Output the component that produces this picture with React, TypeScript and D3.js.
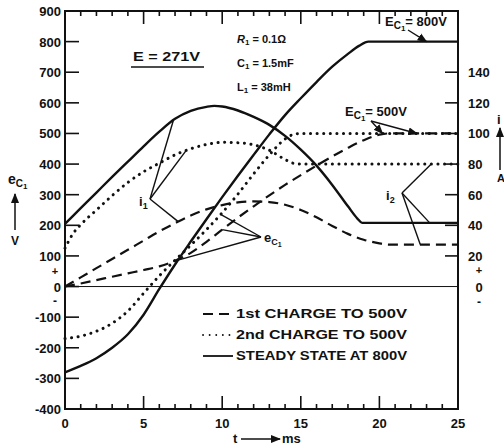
import React from "react";
import * as d3 from "d3";

type Pt = [number, number];

// t (ms), value on the left scale (V); currents use the right scale, 100 A = 500 V
// 1st charge to 500V (dashed)
const firstI1: Pt[] = [[0, 0], [1, 30], [2, 60], [3, 90], [4, 120], [5, 150], [6, 180], [7, 207], [8, 232], [9, 252], [10, 266], [11, 275], [12, 278], [13, 276], [14, 267], [15, 250], [16, 226], [17, 198], [18, 172], [19, 153], [20, 141], [20.6, 137], [25, 137]];
const firstEc: Pt[] = [[0, 0], [1, 10], [2, 21], [3, 32], [4, 43], [5, 54], [6, 66], [7, 84], [8, 110], [9, 146], [10, 186], [11, 225], [12, 262], [13, 298], [14, 332], [15, 364], [16, 395], [17, 425], [18, 453], [19, 478], [20, 496], [20.6, 500], [25, 500]];
// 2nd charge to 500V (dotted)
const secondI1: Pt[] = [[0, 125], [0.5, 172], [1, 202], [2, 250], [3, 297], [4, 340], [5, 375], [6, 403], [7, 430], [8, 450], [9, 464], [10, 471], [11, 470], [12, 463], [13, 445], [14, 415], [14.5, 403], [15, 400], [25, 400]];
const secondEc: Pt[] = [[0, -170], [1, -162], [2, -146], [3, -120], [4, -80], [5, -22], [6, 35], [7, 86], [8, 135], [9, 186], [10, 241], [11, 302], [12, 368], [13, 430], [14, 482], [14.6, 498], [15, 500], [25, 500]];
// steady state at 800V (solid)
const steadyI1: Pt[] = [[0, 205], [1, 256], [2, 307], [3, 358], [4, 408], [5, 458], [6, 506], [7, 548], [8, 574], [9, 587], [9.5, 590], [10, 588], [11, 575], [12, 554], [13, 528], [14, 492], [15, 447], [16, 395], [17, 332], [18, 262], [18.6, 222], [18.9, 208], [25, 208]];
const steadyEc: Pt[] = [[0, -280], [1, -259], [2, -234], [3, -200], [4, -156], [5, -92], [6, -8], [7, 72], [8, 147], [9, 220], [10, 292], [11, 362], [12, 430], [13, 497], [14, 560], [15, 615], [16, 668], [17, 718], [18, 760], [18.7, 786], [19.3, 800], [25, 800]];

const voltTicks = d3.range(-400, 901, 100);
const ampTicks = [20, 40, 60, 80, 100, 120, 140];
const timeLabels = [0, 5, 10, 15, 20, 25];
const legendLabels = ["1st CHARGE  TO  500V", "2nd CHARGE  TO  500V", "STEADY STATE AT 800V"];

const x = d3.scaleLinear().domain([0, 25]).range([65, 458]);
const y = d3.scaleLinear().domain([-400, 900]).range([409, 11]);
const yA = d3.scaleLinear().domain([-80, 180]).range([409, 11]);

const line = d3
  .line<Pt>()
  .x((d) => x(d[0]))
  .y((d) => y(d[1]))
  .curve(d3.curveMonotoneX);

const at = (s: Pt[], t: number): [number, number] => {
  let i = 0;
  while (i < s.length - 2 && s[i + 1][0] < t) i++;
  const [t0, v0] = s[i];
  const [t1, v1] = s[i + 1];
  const v = v0 + ((v1 - v0) * (t - t0)) / (t1 - t0);
  return [x(t), y(v)];
};

const styles = {
  dashed: { strokeDasharray: "10 6", strokeWidth: 2.2 },
  dotted: { strokeDasharray: "0.1 6.5", strokeWidth: 3, strokeLinecap: "round" as const },
  solid: { strokeWidth: 2.4 },
};

const ink = "#111";
const font = "'Liberation Sans', Arial, sans-serif";

const Lead = ({ from, to, arrow }: { from: number[]; to: number[]; arrow?: boolean }) => (
  <line x1={from[0]} y1={from[1]} x2={to[0]} y2={to[1]} stroke={ink} strokeWidth={1.4} markerEnd={arrow ? "url(#ah)" : undefined} />
);

export default function App() {
  const series = [
    { d: firstI1, s: styles.dashed },
    { d: firstEc, s: styles.dashed },
    { d: secondI1, s: styles.dotted },
    { d: secondEc, s: styles.dotted },
    { d: steadyI1, s: styles.solid },
    { d: steadyEc, s: styles.solid },
  ];
  const i1At: number[] = [150, 199];
  const ecAt: number[] = [261, 237];
  const i2At: number[] = [402, 193];

  return (
    <svg width={504} height={448} style={{ position: "absolute", left: 0, top: 0, background: "#fff" }} fontFamily={font} fontWeight="bold" fill={ink}>
      <defs>
        <marker id="ah" viewBox="0 0 10 10" refX="9" refY="5" markerWidth="7" markerHeight="7" orient="auto">
          <path d="M0,1 L10,5 L0,9 Z" fill={ink} />
        </marker>
      </defs>

      {/* frame */}
      <rect x={x(0)} y={y(900)} width={x(25) - x(0)} height={y(-400) - y(900)} fill="none" stroke={ink} strokeWidth={2} />
      <line x1={x(0)} x2={x(25)} y1={y(0)} y2={y(0)} stroke={ink} strokeWidth={1} />

      {/* time ticks top and bottom */}
      {d3.range(0, 26).map((t) => {
        const len = t % 5 === 0 ? 13 : 5;
        return (
          <g key={t} stroke={ink} strokeWidth={1.6}>
            <line x1={x(t)} x2={x(t)} y1={y(-400)} y2={y(-400) - len} />
            <line x1={x(t)} x2={x(t)} y1={y(900)} y2={y(900) + len} />
          </g>
        );
      })}
      {timeLabels.map((t) => (
        <text key={t} x={x(t)} y={428} fontSize={13} textAnchor="middle">{t}</text>
      ))}
      <text x={233} y={443} fontSize={13}>t</text>
      <line x1={241} x2={280} y1={439} y2={439} stroke={ink} strokeWidth={1.5} markerEnd="url(#ah)" />
      <text x={282} y={443} fontSize={13}>ms</text>

      {/* left axis */}
      {voltTicks.map((v) => (
        <g key={v}>
          {v > -400 && v < 900 && <line x1={x(0)} x2={x(0) + 14} y1={y(v)} y2={y(v)} stroke={ink} strokeWidth={1.6} />}
          <text x={61} y={y(v) + 5} fontSize={13} textAnchor="end">{v}</text>
        </g>
      ))}
      <text x={55} y={y(52) + 4} fontSize={11} textAnchor="middle">+</text>
      <text x={55} y={y(-52) + 3} fontSize={12} textAnchor="middle">-</text>
      <text x={8} y={184} fontSize={14}>e<tspan fontSize={10} dy={3}>C</tspan><tspan fontSize={8} dy={2}>1</tspan></text>
      <line x1={15} x2={15} y1={230} y2={194} stroke={ink} strokeWidth={1.5} markerEnd="url(#ah)" />
      <text x={15} y={245} fontSize={12} textAnchor="middle">V</text>

      {/* right axis */}
      {ampTicks.map((a) => (
        <g key={a}>
          <line x1={x(25) - 13} x2={x(25)} y1={yA(a)} y2={yA(a)} stroke={ink} strokeWidth={1.6} />
          <text x={468} y={yA(a) + 5} fontSize={13}>{a}</text>
        </g>
      ))}
      <text x={479} y={yA(10.5) + 4} fontSize={11} textAnchor="middle">+</text>
      <text x={479} y={yA(0) + 5} fontSize={13} textAnchor="middle">0</text>
      <text x={479} y={yA(-10.5) + 3} fontSize={12} textAnchor="middle">-</text>
      <text x={497} y={124} fontSize={13}>i</text>
      <line x1={500} x2={500} y1={170} y2={128} stroke={ink} strokeWidth={1.5} markerEnd="url(#ah)" />
      <text x={497} y={182} fontSize={11}>A</text>

      {/* curves */}
      {series.map((c, i) => (
        <path key={i} d={line(c.d) ?? ""} fill="none" stroke={ink} {...c.s} />
      ))}

      {/* annotations */}
      <text x={133} y={61} fontSize={13} textLength={67} lengthAdjust="spacingAndGlyphs">E = 271V</text>
      <line x1={131} x2={204} y1={67} y2={67} stroke={ink} strokeWidth={1.5} />
      <text x={237} y={43} fontSize={11}><tspan fontStyle="italic">R</tspan><tspan fontSize={8} dy={2}>1</tspan><tspan dy={-2}> = 0.1Ω</tspan></text>
      <text x={237} y={67} fontSize={11}>C<tspan fontSize={8} dy={2}>1</tspan><tspan dy={-2}> = 1.5mF</tspan></text>
      <text x={237} y={91} fontSize={11}>L<tspan fontSize={8} dy={2}>1</tspan><tspan dy={-2}> = 38mH</tspan></text>

      <text x={385} y={26} fontSize={13}>E<tspan fontSize={10} dy={3}>C</tspan><tspan fontSize={8} dy={2}>1</tspan><tspan dy={-5}>= 800V</tspan></text>
      <Lead from={[408, 30]} to={at(steadyEc, 23)} arrow />

      <text x={345} y={116} fontSize={13}>E<tspan fontSize={10} dy={3}>C</tspan><tspan fontSize={8} dy={2}>1</tspan><tspan dy={-5}>= 500V</tspan></text>
      <Lead from={[371, 121]} to={at(secondEc, 20.2)} arrow />
      <Lead from={[371, 121]} to={at(firstEc, 22.4)} arrow />

      <text x={139} y={206} fontSize={13}>i<tspan fontSize={9} dy={3}>1</tspan></text>
      <Lead from={i1At} to={at(steadyI1, 6.9)} />
      <Lead from={i1At} to={at(secondI1, 7.7)} />
      <Lead from={i1At} to={at(firstI1, 7.2)} />

      <text x={264} y={242} fontSize={13}>e<tspan fontSize={9} dy={3}>C</tspan><tspan fontSize={7} dy={2}>1</tspan></text>
      <Lead from={ecAt} to={at(secondEc, 9.9)} />
      <Lead from={ecAt} to={at(firstEc, 10.0)} />
      <Lead from={ecAt} to={at(firstEc, 6.9)} />

      <text x={386} y={200} fontSize={13}>i<tspan fontSize={9} dy={3}>2</tspan></text>
      <Lead from={i2At} to={at(secondI1, 23.3)} />
      <Lead from={i2At} to={at(steadyI1, 23.2)} />
      <Lead from={i2At} to={at(firstI1, 22.6)} />

      {/* legend */}
      {legendLabels.map((lab, i) => {
        const ly = 318 + i * 21;
        const s = [styles.dashed, styles.dotted, styles.solid][i];
        return (
          <g key={lab}>
            <line x1={203} x2={233} y1={ly - 4} y2={ly - 4} stroke={ink} {...s} strokeWidth={1.8} />
            <text x={236} y={ly} fontSize={12} textLength={171} lengthAdjust="spacingAndGlyphs">{lab}</text>
          </g>
        );
      })}
    </svg>
  );
}
